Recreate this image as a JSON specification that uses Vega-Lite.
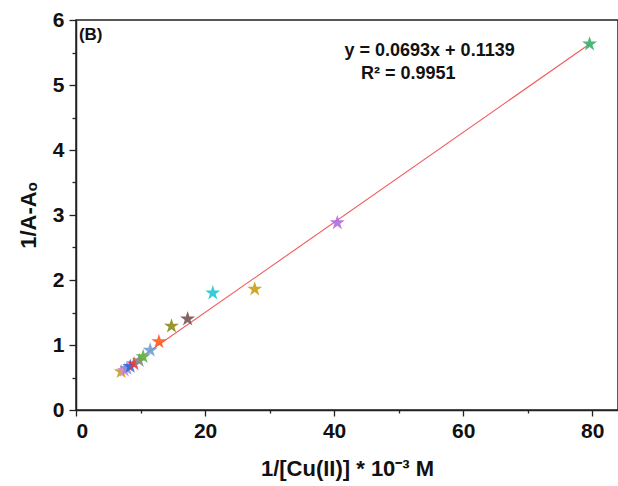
{
  "$schema": "https://vega.github.io/schema/vega-lite/v6.json",
  "width": 542,
  "height": 390,
  "autosize": {"type": "none"},
  "padding": {"left": 76, "top": 20, "right": 0, "bottom": 76},
  "background": "white",
  "config": {
    "view": {"stroke": "#222222", "strokeWidth": 1.5},
    "axis": {
      "grid": false,
      "domainColor": "#222222",
      "domainWidth": 1.5,
      "tickColor": "#222222",
      "tickWidth": 1.3,
      "labelFont": "Liberation Sans",
      "labelFontWeight": "bold",
      "labelFontSize": 21,
      "labelColor": "#111111",
      "titleFont": "Liberation Sans",
      "titleFontWeight": "bold",
      "titleFontSize": 22,
      "titleColor": "#111111"
    }
  },
  "resolve": {"axis": {"x": "independent", "y": "independent"}},
  "layer": [
    {
      "data": {"values": [
        {"x": 7.0, "y": 0.599},
        {"x": 79.6, "y": 5.630}
      ]},
      "mark": {"type": "line", "color": "#F05A5A", "strokeWidth": 1.1},
      "encoding": {
        "x": {
          "field": "x", "type": "quantitative",
          "scale": {"domain": [0, 84], "nice": false, "zero": false},
          "axis": {
            "orient": "bottom",
            "values": [0, 20, 40, 60, 80],
            "tickSize": 6,
            "labelPadding": 4,
            "title": "1/[Cu(II)] * 10⁻³ M",
            "titlePadding": 17
          }
        },
        "y": {
          "field": "y", "type": "quantitative",
          "scale": {"domain": [0, 6], "nice": false, "zero": false},
          "axis": {
            "orient": "left",
            "values": [0, 1, 2, 3, 4, 5, 6],
            "format": "d",
            "tickSize": 7,
            "labelPadding": 5,
            "title": "1/A-Aₒ",
            "titlePadding": 12
          }
        }
      }
    },
    {
      "data": {"values": [
        {"x": 7.0, "y": 0.59, "c": "p01"},
        {"x": 7.5, "y": 0.61, "c": "p02"},
        {"x": 7.9, "y": 0.64, "c": "p03"},
        {"x": 8.4, "y": 0.67, "c": "p04"},
        {"x": 9.0, "y": 0.71, "c": "p05"},
        {"x": 9.8, "y": 0.76, "c": "p06"},
        {"x": 10.4, "y": 0.82, "c": "p07"},
        {"x": 11.5, "y": 0.92, "c": "p08"},
        {"x": 12.85, "y": 1.05, "c": "p09"},
        {"x": 14.8, "y": 1.29, "c": "p10"},
        {"x": 17.3, "y": 1.40, "c": "p11"},
        {"x": 21.2, "y": 1.80, "c": "p12"},
        {"x": 27.7, "y": 1.86, "c": "p13"},
        {"x": 40.5, "y": 2.88, "c": "p14"},
        {"x": 79.6, "y": 5.63, "c": "p15"}
      ]},
      "mark": {"type": "point", "shape": "M0,-1L0.2245,-0.309L0.951,-0.309L0.363,0.118L0.588,0.809L0,0.382L-0.588,0.809L-0.363,0.118L-0.951,-0.309L-0.2245,-0.309Z", "filled": true, "size": 250, "opacity": 0.9},
      "encoding": {
        "x": {
          "field": "x", "type": "quantitative",
          "axis": {"orient": "bottom", "values": [10, 30, 50, 70], "tickSize": 3, "labels": false, "domain": false, "title": null}
        },
        "y": {
          "field": "y", "type": "quantitative",
          "axis": {"orient": "left", "values": [0.5, 1.5, 2.5, 3.5, 4.5, 5.5], "tickSize": 4, "labels": false, "domain": false, "title": null}
        },
        "color": {
          "field": "c", "type": "nominal", "legend": null,
          "scale": {
            "domain": ["p01","p02","p03","p04","p05","p06","p07","p08","p09","p10","p11","p12","p13","p14","p15"],
            "range": ["#C9A020","#D889D6","#8A8FE0","#2E6BD9","#E8383C","#8A8A8A","#5DB53C","#6E9FD6","#FF5A1F","#8C8C1A","#7A5253","#22C5D5","#C9A012","#B26BE0","#3BAE6B"]
          }
        }
      }
    },
    {
      "data": {"values": [{"x": 0.45, "y": 5.77, "t": "(B)"}]},
      "mark": {"type": "text", "fontWeight": "bold", "font": "Liberation Sans", "color": "#111111", "baseline": "middle", "align": "left", "fontSize": 17},
      "encoding": {
        "x": {"field": "x", "type": "quantitative", "axis": null},
        "y": {"field": "y", "type": "quantitative", "axis": null},
        "text": {"field": "t", "type": "nominal"}
      }
    },
    {
      "data": {"values": [
        {"x": 54.8, "y": 5.52, "t": "y = 0.0693x + 0.1139"},
        {"x": 51.5, "y": 5.17, "t": "R² = 0.9951"}
      ]},
      "mark": {"type": "text", "fontWeight": "bold", "font": "Liberation Sans", "color": "#111111", "baseline": "middle", "align": "center", "fontSize": 18},
      "encoding": {
        "x": {"field": "x", "type": "quantitative", "axis": null},
        "y": {"field": "y", "type": "quantitative", "axis": null},
        "text": {"field": "t", "type": "nominal"}
      }
    }
  ]
}
